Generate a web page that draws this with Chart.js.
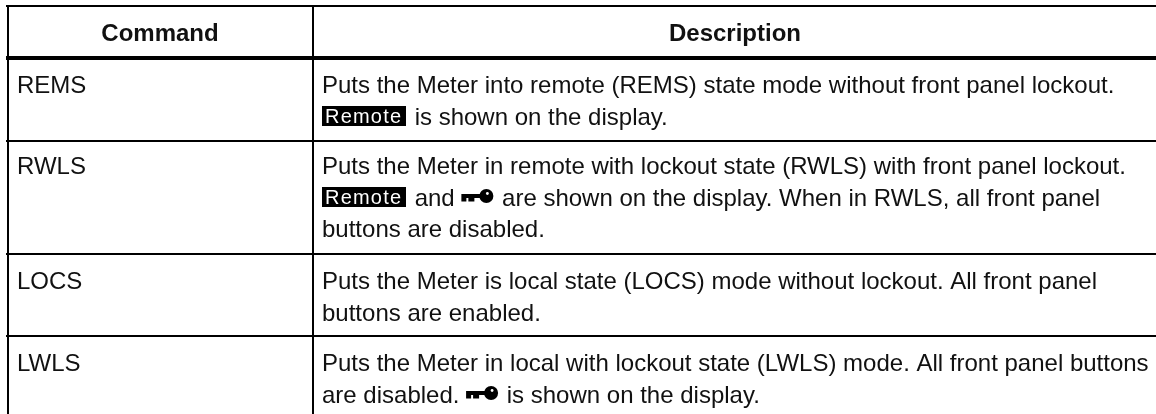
<!DOCTYPE html>
<html><head><meta charset="utf-8">
<style>html,body{margin:0;padding:0;background:#fff}#w{position:relative;width:1156px;height:414px}</style>
<script src="https://cdn.jsdelivr.net/npm/chart.js@4"></script>
</head><body><div id="w"><canvas id="c" width="1156" height="414"></canvas></div>
<script>
const columnEdges=[7.5,313];
const rowEdges=[6,58,141,254,336];
const rowEdgeWidths=[2,4,2,2,2];
const headers=["Command","Description"];
const headerCenters=[160,735];
const headerY=41;
const commands=["REMS","RWLS","LOCS","LWLS"];
const commandY=[93,174,289,371];
const descriptions=[
 ["Puts the Meter into remote (REMS) state mode without front panel lockout.","[R] is shown on the display."],
 ["Puts the Meter in remote with lockout state (RWLS) with front panel lockout.","[R] and [K] are shown on the display. When in RWLS, all front panel","buttons are disabled."],
 ["Puts the Meter is local state (LOCS) mode without lockout. All front panel","buttons are enabled."],
 ["Puts the Meter in local with lockout state (LWLS) mode. All front panel buttons","are disabled. [K] is shown on the display."]
];
const descriptionY=[[93,125],[174,206,237],[289,321],[371,403]];
const commandX=17, descriptionX=322;
const FONT='"Liberation Sans"';
const SIZE=24;

function badge(ctx,x,y){
  ctx.fillStyle='#000';ctx.fillRect(x,y-19,84,20);
  ctx.fillStyle='#fff';ctx.font='20px '+FONT;
  ctx.letterSpacing='1.2px';ctx.fillText('Remote',x+3,y-2);ctx.letterSpacing='0px';
  return 86;
}
function key(ctx,x,y){
  ctx.fillStyle='#000';
  ctx.fillRect(x,y-12,24,4);
  ctx.fillRect(x,y-8,5,3.5);ctx.fillRect(x+7,y-8,6,3.5);
  ctx.beginPath();ctx.arc(x+25,y-10,7,0,Math.PI*2);ctx.fill();
  ctx.fillStyle='#fff';ctx.beginPath();ctx.arc(x+26,y-12.5,1.4,0,Math.PI*2);ctx.fill();
  return 34;
}
const tablePlugin={id:'tableText',afterDraw(chart){
  const {ctx,scales:{x,y}}=chart;ctx.save();
  ctx.textBaseline='alphabetic';ctx.fillStyle='#111';
  ctx.font='bold '+SIZE+'px '+FONT;ctx.textAlign='center';
  headers.forEach((h,i)=>ctx.fillText(h,x.getPixelForValue(headerCenters[i]),y.getPixelForValue(headerY)));
  ctx.textAlign='left';ctx.font=SIZE+'px '+FONT;
  commands.forEach((c,i)=>ctx.fillText(c,x.getPixelForValue(commandX),y.getPixelForValue(commandY[i])));
  descriptions.forEach((lines,r)=>lines.forEach((line,l)=>{
    let px=x.getPixelForValue(descriptionX);const py=y.getPixelForValue(descriptionY[r][l]);
    line.split(/(\[R\]|\[K\])/).forEach(part=>{
      if(part==='[R]')px+=badge(ctx,px,py);
      else if(part==='[K]')px+=key(ctx,px,py);
      else if(part){ctx.fillStyle='#111';ctx.font=SIZE+'px '+FONT;ctx.fillText(part,px,py);px+=ctx.measureText(part).width;}
    });
  }));
  ctx.restore();
}};
new Chart(document.getElementById('c'),{
  type:'scatter',
  data:{datasets:[{data:commandY.map(v=>({x:commandX,y:v})),pointRadius:0}]},
  options:{responsive:false,animation:false,
    layout:{padding:{left:6,top:5,right:0,bottom:0}},
    plugins:{legend:{display:false},tooltip:{enabled:false}},
    scales:{
      x:{type:'linear',min:6,max:1156,position:'top',border:{display:false},
        afterBuildTicks(s){s.ticks=columnEdges.map(v=>({value:v}));},
        ticks:{display:false},grid:{color:'#000',lineWidth:2,drawTicks:false}},
      y:{type:'linear',min:5,max:414,reverse:true,border:{display:false},
        afterBuildTicks(s){s.ticks=rowEdges.map(v=>({value:v}));},
        ticks:{display:false},grid:{color:'#000',lineWidth:c=>rowEdgeWidths[c.index],drawTicks:false}}
    }},
  plugins:[tablePlugin]
});
</script></body></html>
